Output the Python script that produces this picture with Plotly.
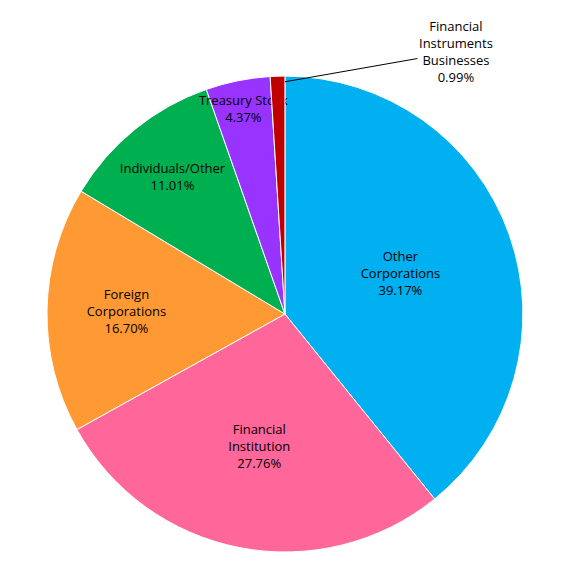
import plotly.graph_objects as go

names = ["Other Corporations", "Financial Institution", "Foreign Corporations",
         "Individuals/Other", "Treasury Stock", "Financial Instruments Businesses"]
label_text = ["Other<br>Corporations", "Financial<br>Institution", "Foreign<br>Corporations",
              "Individuals/Other", "Treasury Stock", "Financial<br>Instruments<br>Businesses"]
values = [39.17, 27.76, 16.70, 11.01, 4.37, 0.99]
colors = ["#00B0F0", "#FF6699", "#FF9933", "#00B050", "#9933FF", "#C00000"]

fig = go.Figure(go.Pie(
    labels=names,
    values=values,
    customdata=label_text,
    texttemplate=["%{customdata}<br>%{value:.2f}%"] * 5 + [""],
    textposition="inside",
    insidetextorientation="horizontal",
    sort=False,
    direction="clockwise",
    rotation=0,
    marker=dict(colors=colors, line=dict(color="white", width=1)),
    textfont=dict(family="Open Sans", size=13, color="black"),
    showlegend=False,
    domain=dict(x=[0.068, 0.902], y=[0.049, 0.881]),
))
# small slice label sits outside, joined by a thin line
fig.add_annotation(
    x=0.485, y=0.871, xref="paper", yref="paper",
    text=label_text[5] + "<br>" + f"{values[5]:.2f}%",
    showarrow=True, arrowhead=0, arrowwidth=1, arrowcolor="black",
    ax=171, ay=-30, font=dict(family="Open Sans", size=13, color="black"),
)
fig.update_layout(width=571, height=572, margin=dict(l=0, r=0, t=0, b=0),
                  paper_bgcolor="white", uniformtext=dict(minsize=13, mode="show"))
fig.write_html("out.html")
